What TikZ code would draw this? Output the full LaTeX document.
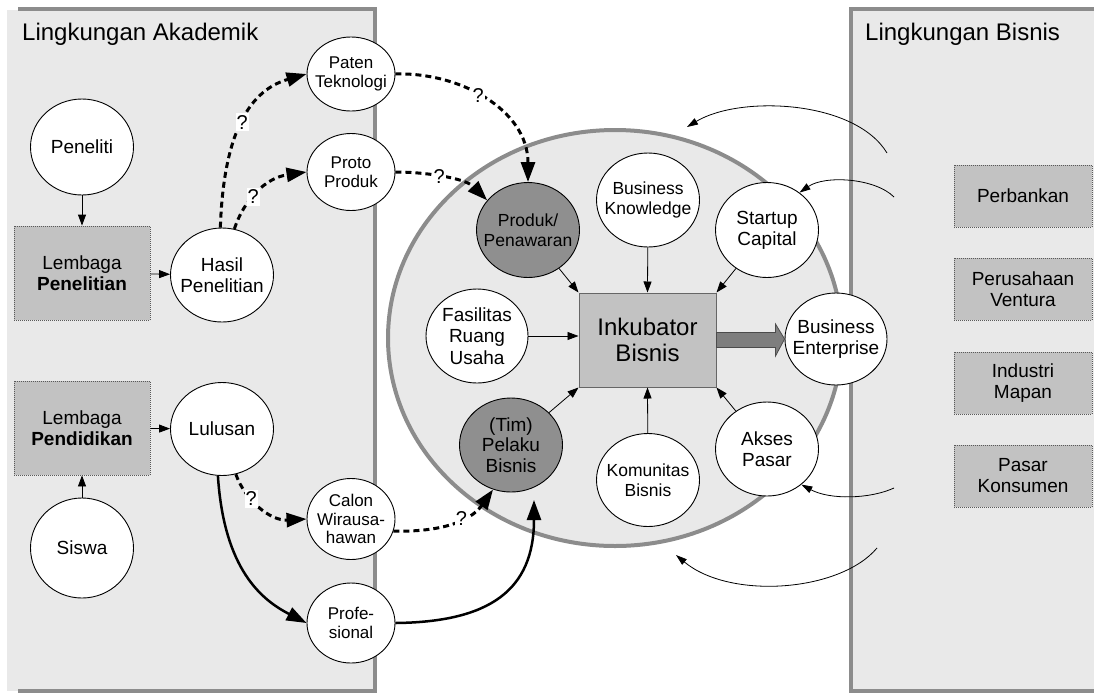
\documentclass[tikz,border=0pt]{standalone}
\usepackage{fontspec}
\setmainfont{Liberation Sans}
\usetikzlibrary{shapes.geometric, arrows.meta, calc}

\definecolor{panelbg}{HTML}{E9E9E9}
\definecolor{panelline}{HTML}{8C8C8C}
\definecolor{boxfill}{HTML}{C2C2C2}
\definecolor{darknode}{HTML}{8F8F8F}
\definecolor{blockarrow}{HTML}{7E7E7E}

% text sizes (1pt = 1 pixel of the drawing)
\newcommand\fsA{\fontsize{19}{21}\selectfont}
\newcommand\fsB{\fontsize{17}{18.5}\selectfont}
\newcommand\fsC{\fontsize{17.5}{19.5}\selectfont}
\newcommand\fsD{\fontsize{24}{26}\selectfont}
\newcommand\fsT{\fontsize{24}{27}\selectfont}
\newcommand\fsQ{\fontsize{20}{22}\selectfont}

\begin{document}
\begin{tikzpicture}[x=1pt, y=-1pt,
  ell/.style={ellipse, draw=black, line width=0.9pt, fill=white, align=center,
    font=\fsA, inner xsep=-14pt, inner ysep=-6pt,
    minimum width=103pt, minimum height=94pt},
  smallell/.style={ell, font=\fsB, minimum width=88pt, minimum height=78pt},
  darkell/.style={ell, fill=darknode},
  inst/.style={rectangle, draw=black!65, line width=0.8pt, dash pattern=on 1pt off 1pt,
    fill=boxfill, align=center, font=\fsA, inner sep=0pt,
    minimum width=136pt, minimum height=94pt},
  bizbox/.style={inst, minimum width=138pt, minimum height=62pt},
  conn/.style={-{Triangle[length=11pt,width=8pt]}, line width=0.8pt},
  dashcon/.style={-{Triangle[length=20pt,width=14pt]}, line width=3pt,
    dash pattern=on 6pt off 4pt},
  solidcon/.style={-{Triangle[length=20pt,width=14pt]}, line width=2.5pt},
  flow/.style={-{Triangle[length=11pt,width=7pt]}, line width=0.8pt},
  qmark/.style={fill=white, inner xsep=1pt, inner ysep=2pt, font=\fsQ},
  title/.style={anchor=base west, inner sep=0pt, font=\fsT}
]
\useasboundingbox (0,0) rectangle (1094,694);

% ---------- environments ----------
\fill[panelbg] (7,10) rectangle (375,691);
\draw[panelline, line width=4pt] (18,9) -- (375,9) -- (375,691) -- (18,691);
\node[title] (akad) at (22,40.5) {Lingkungan Akademik};

\fill[panelbg] (851,10) rectangle (1094,691);
\draw[panelline, line width=4pt] (1094,9) -- (851,9) -- (851,691) -- (1094,691);
\node[title] (bisnis) at (865,40.5) {Lingkungan Bisnis};

\node[ellipse, draw=panelline, line width=4pt, fill=panelbg,
  minimum width=454pt, minimum height=416pt] (arena) at (615,338) {};

% ---------- academic side ----------
\node[ell, minimum height=96pt] (peneliti) at (82,147) {Peneliti};
\node[inst] (lempen) at (82,273) {Lembaga\\\textbf{Penelitian}};
\node[ell] (hasil) at (222,275) {Hasil\\Penelitian};
\node[smallell, minimum height=74pt] (paten) at (351,74) {Paten\\Teknologi};
\node[smallell, minimum height=77pt] (proto) at (351,172) {Proto\\Produk};

\node[inst] (lemdik) at (82,428) {Lembaga\\\textbf{Pendidikan}};
\node[ell, minimum height=93pt] (lulusan) at (222,429) {Lulusan};
\node[ell, minimum height=100pt] (siswa) at (82,548) {Siswa};
\node[smallell, minimum height=81pt] (calon) at (351,519) {Calon\\Wirausa-\\hawan};
\node[smallell, minimum height=80pt] (profe) at (351,623) {Profe-\\sional};

% ---------- incubator ----------
\node[darkell, font=\fsC, minimum height=95pt] (produk) at (528,230) {Produk/\\Penawaran};
\node[ell, font=\fsC] (bizknow) at (648,200) {Business\\Knowledge};
\node[ell, minimum height=95pt] (startup) at (767,230) {Startup\\Capital};
\node[ell, minimum width=102pt, font=\fontsize{19}{21.5}\selectfont] (fasil) at (477,336)
  {Fasilitas\\Ruang\\Usaha};
\node[rectangle, draw=black!60, line width=1pt, fill=boxfill, align=center,
  font=\fsD, inner sep=0pt, minimum width=137pt, minimum height=94pt]
  (inkub) at (647.5,340) {Inkubator\\Bisnis};
\node[ell, minimum width=102pt, minimum height=92pt] (ent) at (836,339) {Business\\Enterprise};
\node[darkell, font=\fontsize{19}{20.5}\selectfont] (pelaku) at (511,445) {(Tim)\\Pelaku\\Bisnis};
\node[ell, font=\fsC, minimum height=93pt] (komunitas) at (648,480) {Komunitas\\Bisnis};
\node[ell] (akses) at (767,449) {Akses\\Pasar};

% ---------- business side ----------
\node[bizbox] (bank) at (1023,196) {Perbankan};
\node[bizbox] (ventura) at (1023,289) {Perusahaan\\Ventura};
\node[bizbox] (industri) at (1023,383) {Industri\\Mapan};
\node[bizbox] (pasar) at (1023,476) {Pasar\\Konsumen};

% ---------- connectors: academic ----------
\draw[conn] (peneliti) -- (lempen);
\draw[conn] (lempen) -- (hasil);
\draw[conn] (siswa) -- (lemdik);
\draw[conn] (lemdik) -- (lulusan);

\draw[dashcon] (hasil.92) .. controls (224,118) and (258,88) .. (paten.west)
  node[qmark, pos=0.45] (q1) {?};
\draw[dashcon] (hasil.75) .. controls (244,200) and (265,178) .. (proto.west)
  node[qmark, pos=0.42] (q2) {?};
\draw[dashcon] (paten.east) .. controls (460,72) and (528,110) .. (produk.north)
  node[qmark, pos=0.45] (q3) {?};
\draw[dashcon] (proto.east) .. controls (425,172) and (465,178) .. (produk.144)
  node[qmark, pos=0.45] (q4) {?};
\draw[dashcon] (lulusan.-73) .. controls (245,500) and (270,521) .. (calon.west)
  node[qmark, pos=0.35] (q5) {?};
\draw[solidcon] (lulusan.265) .. controls (224,570) and (262,600) .. (profe.west);
\draw[dashcon] (calon.-16) .. controls (440,532) and (470,522) .. (pelaku.-112)
  node[qmark, pos=0.6] (q6) {?};
\coordinate (pelakuIn) at ($(pelaku.center)+(23,55)$);
\draw[solidcon] (profe.east) .. controls (490,622) and (534,590) .. (pelakuIn);

% ---------- connectors: incubator ----------
\draw[conn] (produk) -- (inkub.north west);
\draw[conn] (bizknow) -- (inkub.north);
\draw[conn] (startup) -- (inkub.north east);
\draw[conn] (fasil.east) -- (fasil.east -| inkub.west);
\draw[conn] (pelaku) -- (inkub.south west);
\draw[conn] (komunitas) -- (inkub.south);
\draw[conn] (akses) -- (inkub.south east);

\draw[blockarrow!60!black, fill=blockarrow, line width=0.8pt]
  ($(inkub.east)+(0,-7.5)$) -- ($(inkub.east)+(59,-7.5)$) -- ($(inkub.east)+(59,-16)$)
  -- (ent.west) -- ($(inkub.east)+(59,16)$) -- ($(inkub.east)+(59,7.5)$)
  -- ($(inkub.east)+(0,7.5)$) -- cycle;

% ---------- influences from the business environment ----------
\coordinate (inA) at (887,153);
\coordinate (outA) at (687,127);
\coordinate (inB) at (894,197);
\coordinate (inC) at (894,488);
\coordinate (inD) at (877,548);
\coordinate (outD) at (676,555);
\draw[flow] (inA) .. controls (855,100) and (740,95) .. (outA);
\draw[flow] (inB) .. controls (875,178) and (825,175) .. (startup.49);
\draw[flow] (inC) .. controls (870,499) and (830,500) .. (akses.-46);
\draw[flow] (inD) .. controls (840,592) and (730,600) .. (outD);
\end{tikzpicture}
\end{document}
